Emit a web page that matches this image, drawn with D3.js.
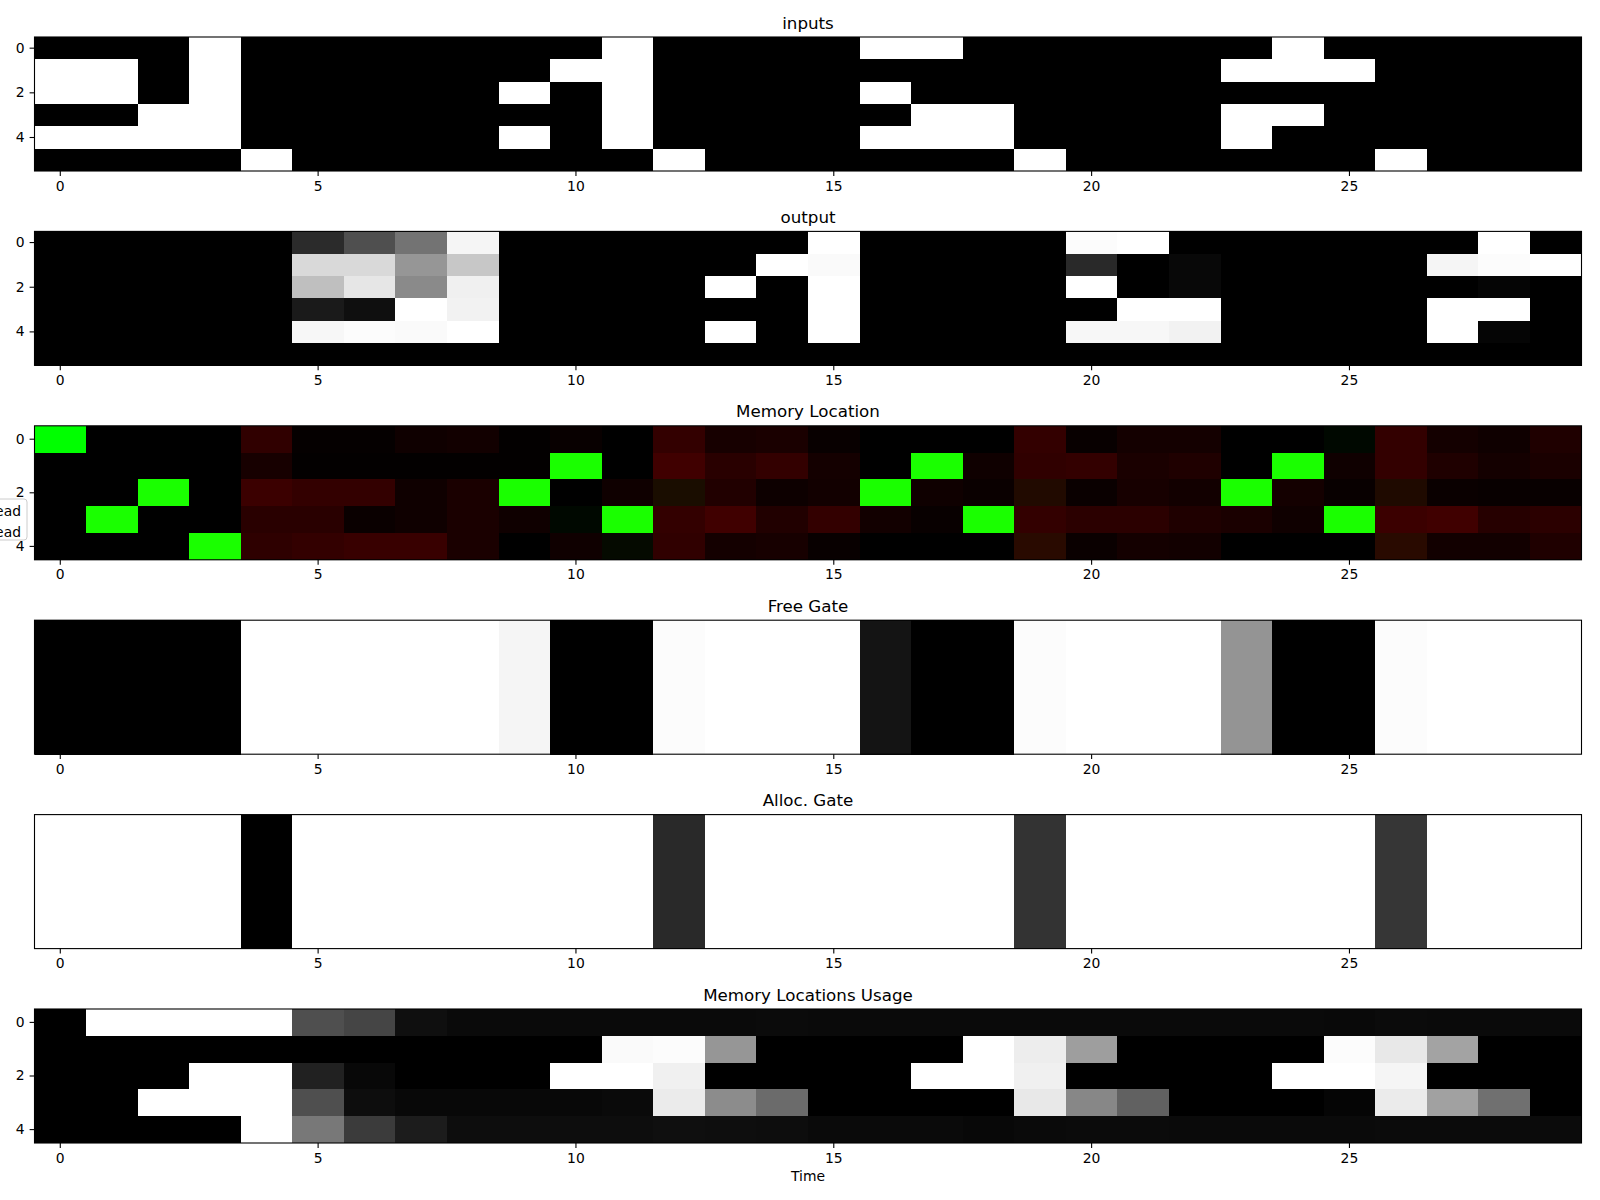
<!DOCTYPE html>
<html><head><meta charset="utf-8">
<script src="https://cdn.jsdelivr.net/npm/d3@7"></script>
<style>body{margin:0;background:#fff} svg{display:block;font-family:"DejaVu Sans",sans-serif}</style>
</head><body><svg id="c" width="1600" height="1200"></svg>
<script>
// ---------- data ----------
const timeSteps = d3.range(30);
const xTickValues = [0, 5, 10, 15, 20, 25];
const yTickValues = [0, 2, 4];
const panelTitles = ["inputs", "output", "Memory Location", "Free Gate", "Alloc. Gate", "Memory Locations Usage"];
const xAxisLabel = "Time";
const legendLabels = ["Write Head", "Read Head"];

const inputs = [
  [0,0,0,1,0,0,0,0,0,0,0,1,0,0,0,0,1,1,0,0,0,0,0,0,1,0,0,0,0,0],
  [1,1,0,1,0,0,0,0,0,0,1,1,0,0,0,0,0,0,0,0,0,0,0,1,1,1,0,0,0,0],
  [1,1,0,1,0,0,0,0,0,1,0,1,0,0,0,0,1,0,0,0,0,0,0,0,0,0,0,0,0,0],
  [0,0,1,1,0,0,0,0,0,0,0,1,0,0,0,0,0,1,1,0,0,0,0,1,1,0,0,0,0,0],
  [1,1,1,1,0,0,0,0,0,1,0,1,0,0,0,0,1,1,1,0,0,0,0,1,0,0,0,0,0,0],
  [0,0,0,0,1,0,0,0,0,0,0,0,1,0,0,0,0,0,0,1,0,0,0,0,0,0,1,0,0,0]
];

const output = [
  [0,0,0,0,0,.17,.31,.45,.96,0,0,0,0,0,0,1,0,0,0,0,.99,1,0,0,0,0,0,0,1,0],
  [0,0,0,0,0,.85,.85,.59,.78,0,0,0,0,0,1,.98,0,0,0,0,.16,0,.03,0,0,0,0,.96,.99,1],
  [0,0,0,0,0,.75,.90,.54,.94,0,0,0,0,1,0,1,0,0,0,0,1,0,.03,0,0,0,0,0,.02,0],
  [0,0,0,0,0,.10,.06,1,.95,0,0,0,0,0,0,1,0,0,0,0,0,1,1,0,0,0,0,1,1,0],
  [0,0,0,0,0,.97,.99,.98,1,0,0,0,0,1,0,1,0,0,0,0,.97,.97,.95,0,0,0,0,1,.02,0],
  [0,0,0,0,0,0,0,0,0,0,0,0,0,0,0,0,0,0,0,0,0,0,0,0,0,0,0,0,0,0]
];

const writeWeights = [
  [0,0,0,0,.19,.02,.02,.06,.07,.01,.03,0,.2,.09,.1,.03,0,0,0,.2,.03,.08,.08,0,0,0,.2,.08,.06,.12],
  [0,0,0,0,.09,.01,.01,.01,.01,.01,.1,0,.25,.16,.2,.08,0,.1,.06,.19,.2,.1,.12,0,.1,.06,.2,.12,.08,.1],
  [0,0,.1,0,.23,.2,.2,.06,.1,.1,0,.06,.1,.13,.05,.07,.1,.06,.04,.13,.04,.09,.07,.1,.08,.03,.12,.04,.03,.03],
  [0,.1,0,0,.16,.16,.04,.06,.1,.06,0,.1,.2,.25,.13,.2,.07,.03,.1,.2,.17,.17,.12,.1,.06,.1,.23,.25,.15,.17],
  [0,0,0,.1,.18,.2,.22,.22,.1,0,.06,.02,.19,.08,.09,.03,0,0,0,.16,.04,.08,.07,0,0,0,.16,.07,.07,.12]
];

const readWeights = [
  [1,0,0,0,0,0,0,0,0,0,0,0,0,0,0,0,0,0,0,0,0,0,0,0,0,.03,0,0,0,0],
  [0,0,0,0,0,0,0,0,0,0,1,0,0,0,0,0,0,1,0,0,0,0,0,0,1,0,0,0,0,0],
  [0,0,1,0,0,0,0,0,0,1,0,0,.05,0,0,0,1,0,0,.04,0,0,0,1,0,0,.04,0,0,0],
  [0,1,0,0,0,0,0,0,0,0,.03,1,0,0,0,0,0,0,1,0,0,0,0,0,0,1,0,0,0,0],
  [0,0,0,1,0,0,0,0,0,0,0,.04,0,0,0,0,0,0,0,.04,0,0,0,0,0,0,.04,0,0,0]
];

const freeGate = [0,0,0,0,1,1,1,1,1,.96,0,0,.99,1,1,1,.08,0,0,.99,1,1,1,.58,0,0,.99,1,1,1];
const allocGate = [1,1,1,1,0,1,1,1,1,1,1,1,.16,1,1,1,1,1,1,.2,1,1,1,1,1,1,.21,1,1,1];

const usage = [
  [0,1,1,1,1,.31,.27,.06,.04,.04,.04,.04,.04,.04,.045,.04,.04,.04,.04,.04,.04,.04,.04,.04,.04,.035,.045,.04,.04,.04],
  [0,0,0,0,0,0,0,0,0,0,0,.98,.99,.59,0,0,0,0,1,.93,.62,0,0,0,0,.99,.91,.64,0,0],
  [0,0,0,1,1,.13,.03,0,0,0,1,1,.94,0,0,0,0,1,1,.94,0,0,0,0,1,1,.96,0,0,0],
  [0,0,1,1,1,.31,.05,.03,.03,.03,.03,.04,.92,.55,.42,0,0,0,0,.91,.53,.38,0,0,0,.02,.92,.63,.44,0],
  [0,0,0,0,1,.47,.23,.11,.05,.05,.05,.05,.06,.055,.05,.04,.04,.04,.03,.04,.045,.045,.04,.04,.04,.04,.045,.045,.045,.045]
];

// ---------- layout ----------
const svg = d3.select("#c");
const left = 34.5, right = 1581.5;
const top0 = 37, step = 194.4, panelH = 134;
const tickFont = 13.9, titleFont = 16.7, tickLen = 4.9, tickPad = 4.9;

const x = d3.scaleBand().domain(timeSteps).range([left, right]);
const gray = d3.scaleLinear().domain([0, 1]).range(["#000000", "#ffffff"]).interpolate(d3.interpolateRgb);
const chan = d3.scaleLinear().domain([0, 1]).range([0, 255]).clamp(true);

const panels = [
  {rows: inputs, color: v => gray(v), yTicks: true},
  {rows: output, color: v => gray(v), yTicks: true},
  {rows: writeWeights.map((r, i) => r.map((w, j) => [w, readWeights[i][j]])),
   color: v => `rgb(${Math.round(chan(v[0]))},${Math.round(chan(v[1]))},0)`, yTicks: true},
  {rows: [freeGate], color: v => gray(v), yTicks: false},
  {rows: [allocGate], color: v => gray(v), yTicks: false},
  {rows: usage, color: v => gray(v), yTicks: true}
];

panels.forEach((p, pi) => {
  const top = top0 + pi * step;
  const y = d3.scaleBand().domain(d3.range(p.rows.length)).range([top, top + panelH]);
  const g = svg.append("g");
  const cells = [];
  p.rows.forEach((row, ri) => row.forEach((v, ci) => cells.push({ri, ci, v})));
  g.selectAll("rect.cell").data(cells).join("rect")
    .attr("class", "cell")
    .attr("x", d => x(d.ci)).attr("y", d => y(d.ri))
    .attr("width", x.bandwidth() + 0.4).attr("height", y.bandwidth() + 0.4)
    .attr("fill", d => p.color(d.v))
    .attr("shape-rendering", "crispEdges");
  // frame
  g.append("rect").attr("x", left).attr("y", top).attr("width", right - left).attr("height", panelH)
    .attr("fill", "none").attr("stroke", "#000").attr("stroke-width", 1.1);
  // x axis
  const xa = g.append("g").attr("transform", `translate(0,${top + panelH})`)
    .call(d3.axisBottom(x).tickValues(xTickValues).tickSize(tickLen).tickPadding(tickPad).tickSizeOuter(0));
  xa.select(".domain").remove();
  xa.selectAll("text").attr("font-size", tickFont).attr("font-family", "DejaVu Sans").attr("fill", "#000");
  xa.selectAll("line").attr("stroke", "#000").attr("stroke-width", 1.1);
  if (p.yTicks) {
    const ya = g.append("g").attr("transform", `translate(${left},0)`)
      .call(d3.axisLeft(y).tickValues(yTickValues).tickSize(tickLen).tickPadding(tickPad).tickSizeOuter(0));
    ya.select(".domain").remove();
    ya.selectAll("text").attr("font-size", tickFont).attr("font-family", "DejaVu Sans").attr("fill", "#000");
    ya.selectAll("line").attr("stroke", "#000").attr("stroke-width", 1.1);
  }
  svg.append("text").attr("x", (left + right) / 2).attr("y", top - 8.5)
    .attr("text-anchor", "middle").attr("font-size", titleFont).attr("fill", "#000")
    .text(panelTitles[pi]);
});

// x label
svg.append("text").attr("x", (left + right) / 2).attr("y", 1181)
  .attr("text-anchor", "middle").attr("font-size", tickFont).attr("fill", "#000").text(xAxisLabel);

// legend (mostly clipped at the left edge, as in the reference)
const lg = svg.append("g");
lg.append("rect").attr("x", -90).attr("y", 499).attr("width", 117).attr("height", 41).attr("rx", 3)
  .attr("fill", "#fff").attr("fill-opacity", 0.8).attr("stroke", "#cccccc").attr("stroke-width", 1);
lg.selectAll("text.lg").data(legendLabels).join("text").attr("class", "lg")
  .attr("x", 21).attr("y", (d, i) => 515.5 + i * 21)
  .attr("text-anchor", "end").attr("font-size", tickFont).attr("fill", "#000").text(d => d);
</script></body></html>
